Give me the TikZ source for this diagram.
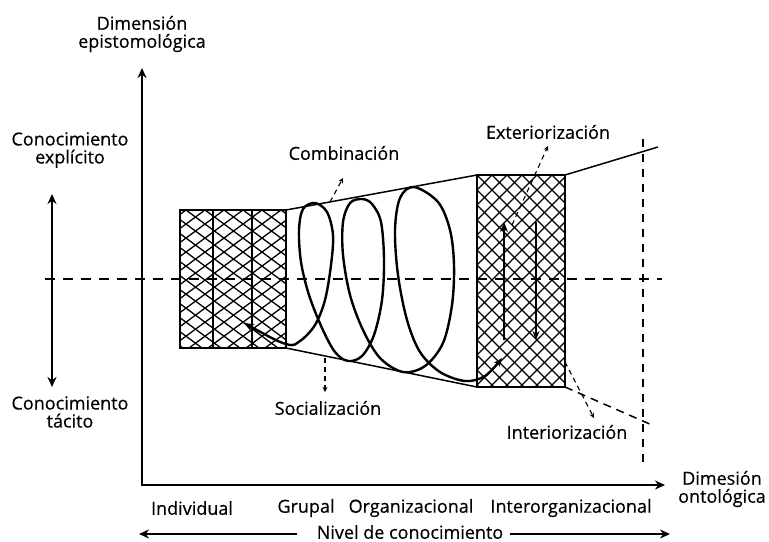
\documentclass[tikz,border=0pt]{standalone}
\usepackage{fontspec}
\setmainfont{Open Sans}[FakeBold=0.4]
\usetikzlibrary{arrows.meta}
\begin{document}
\begin{tikzpicture}[x=0.5pt,y=-0.5pt,
  lbl/.style={font=\fontsize{9}{9}\selectfont, align=center, inner sep=0pt},
  axis/.style={line width=1.3pt},
  hatch/.style={line width=0.65pt},
  boxline/.style={line width=0.85pt},
  funnel/.style={line width=0.75pt},
  guide/.style={line width=0.6pt, dash pattern=on 5pt off 4pt},
  pointer/.style={line width=0.55pt, dash pattern=on 2.5pt off 2pt, -{Stealth[length=2.5pt,width=2.5pt]}},
  spiral/.style={line width=1.2pt},
  bigtip/.style={-{Stealth[length=5pt,width=4.5pt]}}]
\useasboundingbox (0,0) rectangle (769,541);
\fill[white] (0,0) rectangle (769,541);

% coordinates
\coordinate (O) at (142,485);
\coordinate (Ytop) at (142,68);
\coordinate (Xend) at (665,485);
\coordinate (LA) at (180,210);
\coordinate (LB) at (286,348);
\coordinate (RA) at (477,175);
\coordinate (RB) at (565,387);
\coordinate (LTR) at (286,210);
\coordinate (RTL) at (477,175);
\coordinate (LBR) at (286,348);
\coordinate (RBL) at (477,387);
\coordinate (RTR) at (565,175);
\coordinate (RBR) at (565,387);
\coordinate (topEnd) at (658,147);
\coordinate (botEnd) at (652,425);

% dashed guides
\coordinate (hL) at (45,279);
\coordinate (hR) at (662,279);
\coordinate (vT) at (643,139);
\coordinate (vB) at (643,462);
\draw[guide] (hL) -- (hR);
\draw[guide, dash pattern=on 4pt off 3.5pt] (vT) -- (vB);

% left hatched block
\begin{scope}
  \clip (LA) rectangle (LB);
  \foreach \k in {-12,...,18} {
    \draw[hatch] ({186+\k*19},210) -- ++(187,138);
    \draw[hatch] ({186+\k*19},210) -- ++(-187,138);
  }
\end{scope}
\draw[boxline] (LA) rectangle (LB);
\draw[boxline] (213,210) -- (213,348);
\draw[boxline] (252,210) -- (252,348);

% right hatched block
\begin{scope}
  \clip (RA) rectangle (RB);
  \foreach \k in {-16,...,22} {
    \draw[hatch] ({477+\k*15},175) -- ++(212,212);
    \draw[hatch] ({477+\k*15},175) -- ++(-212,212);
  }
\end{scope}
\draw[boxline] (RA) rectangle (RB);

% funnel
\draw[funnel] (LTR) -- (RTL);
\draw[funnel] (LBR) -- (RBL);
\draw[funnel] (RTR) -- (topEnd);
\draw[funnel, dash pattern=on 4pt off 3pt] (RBR) -- (botEnd);

% arrows in right block
\coordinate (u1) at (504,340);
\coordinate (u2) at (504,222);
\coordinate (d1) at (536,222);
\coordinate (d2) at (536,340);
\draw[line width=1.4pt, -{Stealth[length=5pt,width=4pt]}] (u1) -- (u2);
\draw[line width=0.9pt, -{Stealth[length=4.5pt,width=3.5pt]}] (d1) -- (d2);

% spiral
\draw[spiral, {Stealth[length=5pt,width=4pt]}-{Stealth[length=4.5pt,width=3.5pt]}]
  plot[smooth, tension=0.55] coordinates {
  (244,323) (286,344) (300,341) (315,325) (325,300) (331,265) (333,235)
  (327,212) (315,203) (303,209) (299,230) (301,262) (309,295) (322,328)
  (335,352) (348,361) (362,356) (374,335) (382,300) (384,260) (381,222)
  (372,204) (362,199) (350,203) (343,222) (343,255) (350,295) (363,330)
  (380,358) (403,372) (425,366) (443,343) (452,305) (454,265) (450,230)
  (438,202) (414,187) (400,198) (395,230) (398,275) (407,320) (420,352)
  (440,372) (465,381) (485,376) (502,358)};

% axes
\draw[axis, {Stealth[length=5pt,width=4.5pt]}-{Stealth[length=5pt,width=4.5pt]}] (Ytop) -- (O) -- (Xend);

% tacit/explicit arrow
\coordinate (ea) at (52,194);
\coordinate (eb) at (52,387);
\draw[axis, {Stealth[length=5pt,width=4.5pt]}-{Stealth[length=5pt,width=4.5pt]}] (ea) -- (eb);

% labels
\node[lbl] (dimE) at (142,34) {Dimensión\\epistomológica};
\node[lbl] (expl) at (70,150) {Conocimiento\\explícito};
\node[lbl] (tac) at (70,412) {Conocimiento\\tácito};
\node[lbl] (comb) at (344,153) {Combinación};
\node[lbl] (ext) at (548,132) {Exteriorización};
\node[lbl] (soc) at (328,408) {Socialización};
\node[lbl] (inte) at (567,432) {Interiorización};
\node[lbl] (dimO) at (722,489) {Dimesión\\ontológica};
\node[lbl] (ind) at (192,508) {Individual};
\node[lbl] (gru) at (306,508) {Grupal};
\node[lbl] (org) at (411,508) {Organizacional};
\node[lbl] (inter) at (571,508) {Interorganizacional};
\node[lbl] (nivel) at (410,532) {Nivel de conocimiento};

% nivel arrows
\coordinate (nl) at (139,534);
\coordinate (nr) at (670,534);
\coordinate (nlS) at (297,534);
\coordinate (nrS) at (510,534);
\draw[line width=1.1pt, -{Stealth[length=5pt,width=4.5pt]}] (nlS) -- (nl);
\draw[line width=1.1pt, -{Stealth[length=5pt,width=4.5pt]}] (nrS) -- (nr);

% pointers
\coordinate (pc1) at (330,202);
\coordinate (pc2) at (343,178);
\draw[pointer] (pc1) -- (pc2);
\coordinate (pe1) at (512,225);
\coordinate (pe2) at (548,146);
\draw[pointer] (pe1) -- (pe2);
\coordinate (ps1) at (325,358);
\coordinate (ps2) at (325,392);
\draw[pointer] (ps1) -- (ps2);
\coordinate (pi1) at (565,362);
\coordinate (pi2) at (594,418);
\draw[pointer] (pi1) -- (pi2);
\end{tikzpicture}
\end{document}
